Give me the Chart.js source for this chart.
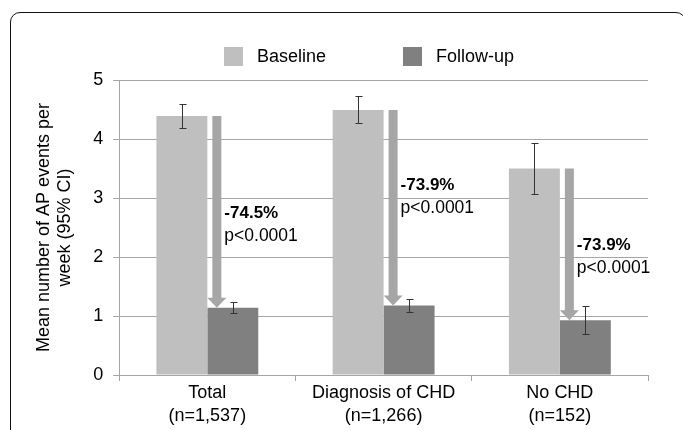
<!DOCTYPE html>
<html>
<head>
<meta charset="utf-8">
<title>AP events per week</title>
<script src="https://cdn.jsdelivr.net/npm/chart.js@4.4.1/dist/chart.umd.min.js"></script>
<style>
  html, body { margin: 0; padding: 0; background: #fff; overflow: hidden; }
  #wrap { position: relative; width: 683px; height: 430px; overflow: hidden; }
  #frame {
    position: absolute; left: 10px; top: 12px; width: 676px; height: 440px;
    box-sizing: border-box; border: 1.5px solid #111; border-radius: 10px;
    pointer-events: none;
  }
</style>
</head>
<body>
<div id="wrap">
  <canvas id="chart" width="683" height="430"></canvas>
  <div id="frame"></div>
</div>
<script>
// categories and series
const categories = [['Total', '(n=1,537)'], ['Diagnosis of CHD', '(n=1,266)'], ['No CHD', '(n=152)']];
const seriesNames = ['Baseline', 'Follow-up'];
const baseline = [4.39, 4.49, 3.50];
const followUp = [1.14, 1.18, 0.93];
// 95% CI ends
const baselineLow = [4.19, 4.27, 3.06];
const baselineHigh = [4.59, 4.73, 3.94];
const followUpLow = [1.05, 1.07, 0.69];
const followUpHigh = [1.24, 1.28, 1.17];
// change annotations
const changeLabels = ['-74.5%', '-73.9%', '-73.9%'];
const pLabels = ['p<0.0001', 'p<0.0001', 'p<0.0001'];
const changeLabelY = [2.74, 3.21, 2.20];
const yTicks = [0, 1, 2, 3, 4, 5];

const ciLow = [baselineLow, followUpLow];
const ciHigh = [baselineHigh, followUpHigh];
const FONT = '"Liberation Sans", Arial, sans-serif';

// error bars on top of each bar
const errorBars = {
  id: 'errorBars',
  afterDatasetsDraw(chart) {
    const ctx = chart.ctx, y = chart.scales.y;
    ctx.save();
    ctx.strokeStyle = '#333';
    ctx.lineWidth = 1;
    chart.data.datasets.forEach((ds, di) => {
      chart.getDatasetMeta(di).data.forEach((bar, i) => {
        const x = Math.round(bar.x) + 0.5;
        const lo = Math.round(y.getPixelForValue(ciLow[di][i])) + 0.5;
        const hi = Math.round(y.getPixelForValue(ciHigh[di][i])) + 0.5;
        ctx.beginPath();
        ctx.moveTo(x, lo); ctx.lineTo(x, hi);
        ctx.moveTo(x - 3, lo); ctx.lineTo(x + 4, lo);
        ctx.moveTo(x - 3, hi); ctx.lineTo(x + 4, hi);
        ctx.stroke();
      });
    });
    ctx.restore();
  }
};

// down arrows from baseline level to follow-up level, with the % change text
const changeArrows = {
  id: 'changeArrows',
  afterDatasetsDraw(chart) {
    const ctx = chart.ctx, y = chart.scales.y;
    const bars = chart.getDatasetMeta(1).data;
    ctx.save();
    bars.forEach((bar, i) => {
      const left = bar.x - bar.width / 2;
      const top = y.getPixelForValue(baseline[i]);
      const tip = y.getPixelForValue(followUp[i]);
      const headLen = 10;
      ctx.fillStyle = '#a6a6a6';
      ctx.beginPath();
      ctx.moveTo(left + 5, top);
      ctx.lineTo(left + 14, top);
      ctx.lineTo(left + 14, tip - headLen);
      ctx.lineTo(left + 19, tip - headLen);
      ctx.lineTo(left + 9.5, tip);
      ctx.lineTo(left + 0, tip - headLen);
      ctx.lineTo(left + 5, tip - headLen);
      ctx.closePath();
      ctx.fill();

      const ty = y.getPixelForValue(changeLabelY[i]);
      ctx.fillStyle = '#000';
      ctx.textBaseline = 'middle';
      ctx.textAlign = 'left';
      ctx.font = 'bold 17px ' + FONT;
      ctx.fillText(changeLabels[i], left + 17, ty);
      ctx.font = '17.5px ' + FONT;
      ctx.fillText(pLabels[i], left + 17, ty + 23);
    });
    ctx.restore();
  }
};

// legend laid out like the original (wide gap between the two entries)
const topLegend = {
  id: 'topLegend',
  afterDraw(chart) {
    const ctx = chart.ctx;
    ctx.save();
    ctx.font = '18px ' + FONT;
    ctx.textBaseline = 'middle';
    ctx.textAlign = 'left';
    let x = 224;
    chart.data.datasets.forEach(ds => {
      ctx.fillStyle = ds.backgroundColor;
      ctx.fillRect(x, 47, 19, 19);
      ctx.fillStyle = '#000';
      ctx.fillText(ds.label, x + 33, 57);
      x += 179;
    });
    ctx.restore();
  }
};

new Chart(document.getElementById('chart'), {
  type: 'bar',
  data: {
    labels: categories,
    datasets: [
      { label: seriesNames[0], data: baseline, backgroundColor: '#bfbfbf' },
      { label: seriesNames[1], data: followUp, backgroundColor: '#808080' }
    ]
  },
  options: {
    responsive: false,
    animation: false,
    categoryPercentage: 0.578,
    barPercentage: 1,
    layout: { padding: { top: 80, right: 35, bottom: 2, left: 33 } },
    plugins: { legend: { display: false }, tooltip: { enabled: false } },
    scales: {
      x: {
        grid: { drawOnChartArea: false, color: '#a6a6a6', tickLength: 6 },
        border: { color: '#a6a6a6' },
        ticks: { color: '#000', font: { family: FONT, size: 18, lineHeight: 1.25 }, padding: 1, maxRotation: 0 }
      },
      y: {
        min: 0, max: 5,
        afterBuildTicks(scale) { scale.ticks = yTicks.map(v => ({ value: v })); },
        grid: { color: '#a6a6a6', tickLength: 6 },
        border: { color: '#a6a6a6' },
        ticks: { color: '#000', font: { family: FONT, size: 18 }, padding: 10 },
        title: {
          display: true,
          text: ['Mean number of AP events per', 'week (95% CI)'],
          color: '#000',
          font: { family: FONT, size: 18, lineHeight: 1.2 },
          padding: { top: 0, bottom: 7 }
        }
      }
    }
  },
  plugins: [errorBars, changeArrows, topLegend]
});
</script>
</body>
</html>
